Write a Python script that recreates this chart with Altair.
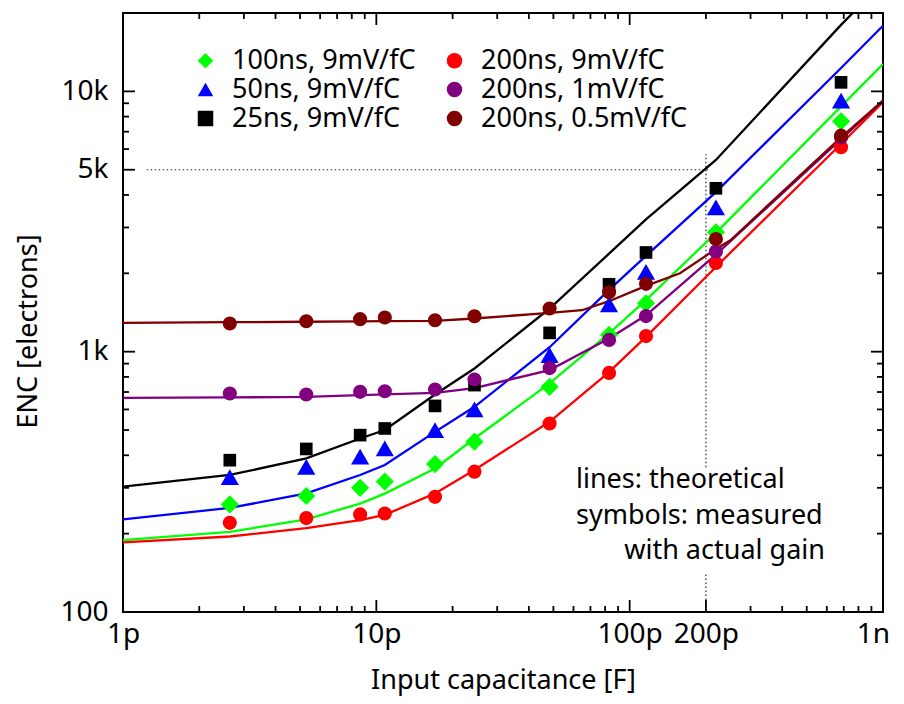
import altair as alt
import pandas as pd

# ---------------- data ----------------
series_names = ["100ns, 9mV/fC", "50ns, 9mV/fC", "25ns, 9mV/fC",
                "200ns, 9mV/fC", "200ns, 1mV/fC", "200ns, 0.5mV/fC"]
series_colors = ["#00ff00", "#0000ff", "#000000", "#ff0000", "#800080", "#800000"]
series_shapes = ["diamond", "triangle-up", "square", "circle", "circle", "circle"]
symbol_area = {"diamond": 330, "triangle-up": 330, "square": 160, "circle": 200}

# measured points (capacitance in pF, ENC in electrons)
meas_x = [2.64, 5.29, 8.63, 10.8, 17.05, 24.4, 48.3, 82.9, 116, 219, 683]
meas_100ns_9 = [259, 279, 300, 317, 370, 451, 733, 1160, 1535, 2874, 7670]
meas_50ns_9 = [330, 361, 395, 425, 500, 600, 970, 1520, 2025, 3586, 9210]
meas_25ns_9 = [383, 423, 478, 507, 619, 744, 1181, 1815, 2405, 4243, 10830]
meas_200ns_9 = [220, 229.5, 237, 239, 277, 346, 530, 829, 1148, 2193, 6100]
meas_200ns_1 = [691, 685, 701, 705, 716, 782, 865, 1110, 1370, 2424, 6650]
meas_200ns_05 = [1283, 1309, 1333, 1353, 1321, 1368, 1465, 1692, 1822, 2710, 6760]

# theoretical curves
theory_x = [1, 2.64, 5.29, 8.63, 10.8, 17.05, 24.4, 48.3, 82.9, 116, 219, 683, 1000]
theory_100ns_9 = [189, 203, 227, 261, 285, 356, 464, 755, 1175, 1577, 2860, 8760, 12730]
theory_50ns_9 = [227, 251, 285.5, 336, 367, 492, 614, 1040, 1727, 2333, 4100, 12290, 17870]
theory_25ns_9 = [303, 336, 389, 464, 500, 685, 862, 1465, 2380, 3220, 5450, 18000, 26300]
theory_200ns_9 = [185, 195, 210, 225.6, 236, 285.5, 351, 538, 835, 1140, 2116, 6280, 9100]
theory_200ns_1 = [665, 667, 671, 681, 685, 695, 725, 850, 1123, 1380, 2360, 6550, 9210]
theory_brown_x = [1, 2.64, 5.29, 8.63, 10.8, 17.05, 24.4, 48.3, 64.8, 82.9, 116, 158, 219, 250, 683, 1000]
theory_200ns_05 = [1290, 1298, 1303, 1308, 1310, 1313, 1341, 1409, 1443, 1563, 1790, 2000, 2480, 2680, 6660, 9210]

# guide lines (dotted): 5k electrons at 200 pF
guide_h_x = [1.24, 204]
guide_h_y = 5000
guide_v_x = 200
guide_v_segments = [(360, 5730), (100, 142)]

annotation_lines = ["lines: theoretical", "symbols: measured", "with actual gain"]
annotation_x = [61.4, 61.4, 590]
annotation_y = [321, 233.6, 171.4]

x_tick_labels_at = [1, 10, 100, 200, 1000]
y_tick_labels_at = [100, 1000, 5000, 10000]
x_minor = [2, 3, 4, 5, 6, 7, 8, 9, 20, 30, 40, 50, 60, 70, 80, 90,
           300, 400, 500, 600, 700, 800, 900]
y_minor = [200, 300, 400, 500, 600, 700, 800, 900,
           2000, 3000, 4000, 6000, 7000, 8000, 9000]

# ---------------- tables ----------------
meas_order = [("100ns, 9mV/fC", meas_100ns_9), ("50ns, 9mV/fC", meas_50ns_9),
              ("25ns, 9mV/fC", meas_25ns_9), ("200ns, 9mV/fC", meas_200ns_9),
              ("200ns, 1mV/fC", meas_200ns_1), ("200ns, 0.5mV/fC", meas_200ns_05)]
shape_of = dict(zip(series_names, series_shapes))
rows = []
for k, (name, vals) in enumerate(meas_order):
    for xv, yv in zip(meas_x, vals):
        rows.append({"C": xv, "ENC": yv, "series": name, "k": k,
                     "sz": symbol_area[shape_of[name]]})
points_df = pd.DataFrame(rows)

theory_order = [("100ns, 9mV/fC", theory_x, theory_100ns_9),
                ("50ns, 9mV/fC", theory_x, theory_50ns_9),
                ("25ns, 9mV/fC", theory_x, theory_25ns_9),
                ("200ns, 9mV/fC", theory_x, theory_200ns_9),
                ("200ns, 1mV/fC", theory_x, theory_200ns_1),
                ("200ns, 0.5mV/fC", theory_brown_x, theory_200ns_05)]
rows = []
for name, xs, vals in theory_order:
    for i, (xv, yv) in enumerate(zip(xs, vals)):
        rows.append({"C": xv, "ENC": yv, "line": name, "i": i})
lines_df = pd.DataFrame(rows)

W, H = 760, 599
FONT = "Noto Sans"

xscale = alt.Scale(type="log", domain=[1, 1000], nice=False)
yscale = alt.Scale(type="log", domain=[100, 20000], nice=False)

x_axis = alt.Axis(values=x_tick_labels_at,
                  labelExpr="datum.value >= 1000 ? '1n' : datum.value + 'p'",
                  labelOffset={"condition": {"test": "datum.value >= 1000", "value": -10}, "value": 0},
                  ticks=False, tickSize=0, domain=False, grid=False,
                  labelFontSize=28, labelFont=FONT, labelColor="black",
                  labelPadding=8, labelFlush=False, labelOverlap=False,
                  title="Input capacitance [F]", titleFont=FONT, titleFontSize=27,
                  titleFontWeight="normal", titleColor="black",
                  titleX=380, titleY=76, titleBaseline="alphabetic")
y_axis = alt.Axis(values=y_tick_labels_at,
                  labelExpr="datum.value >= 1000 ? (datum.value / 1000) + 'k' : datum.value",
                  ticks=False, tickSize=0, domain=False, grid=False,
                  labelFontSize=28, labelFont=FONT, labelColor="black",
                  labelPadding=15, labelFlush=False, labelOverlap=False,
                  title="ENC [electrons]", titleFont=FONT, titleFontSize=27,
                  titleFontWeight="normal", titleColor="black",
                  titleX=-87, titleY=318, titleAngle=270, titleBaseline="alphabetic")

legend = alt.Legend(orient="none", legendX=69, legendY=34, columns=2, title=None,
                    labelFontSize=27, labelFont=FONT, labelColor="black", labelLimit=0,
                    symbolSize=240, symbolStrokeWidth=0, rowPadding=1,
                    columnPadding=25, labelOffset=13, padding=0)

X = alt.X("C:Q", scale=xscale, axis=x_axis)
Y = alt.Y("ENC:Q", scale=yscale, axis=y_axis)

lines = alt.Chart(lines_df).mark_line(strokeWidth=2.3, clip=True).encode(
    x=X, y=Y,
    color=alt.Color("line:N", scale=alt.Scale(domain=series_names, range=series_colors), legend=None),
    order="i:Q",
)

points = alt.Chart(points_df).mark_point(filled=True, opacity=1).encode(
    x=X, y=Y,
    color=alt.Color("series:N", scale=alt.Scale(domain=series_names, range=series_colors), legend=legend),
    shape=alt.Shape("series:N", scale=alt.Scale(domain=series_names, range=series_shapes), legend=legend),
    size=alt.Size("sz:Q", scale=None),
    order="k:Q",
)

guide_df = pd.DataFrame(
    [{"C": guide_h_x[0], "C2": guide_h_x[1], "ENC": guide_h_y, "ENC2": guide_h_y}] +
    [{"C": guide_v_x, "C2": guide_v_x, "ENC": a, "ENC2": b} for a, b in guide_v_segments])
guides = alt.Chart(guide_df).mark_rule(color="#222222", strokeWidth=1.2, strokeDash=[1.5, 2.5]).encode(
    x=X, x2="C2:Q", y=Y, y2="ENC2:Q",
)

ann_df = pd.DataFrame({"t": annotation_lines, "C": annotation_x, "ENC": annotation_y})
ann_left = alt.Chart(ann_df.iloc[:2]).mark_text(
    align="left", baseline="middle", fontSize=27, font=FONT, color="black").encode(
    x=X, y=Y, text="t:N")
ann_right = alt.Chart(ann_df.iloc[2:]).mark_text(
    align="right", baseline="middle", fontSize=27, font=FONT, color="black").encode(
    x=X, y=Y, text="t:N")


def ticks(values, side, length):
    col = "C" if side in ("bottom", "top") else "ENC"
    df = pd.DataFrame({col: values})
    base = alt.Chart(df).mark_rule(color="black", strokeWidth=1.8)
    if side == "bottom":
        return base.encode(x=X, y=alt.value(H), y2=alt.value(H - length))
    if side == "top":
        return base.encode(x=X, y=alt.value(0), y2=alt.value(length))
    if side == "left":
        return base.encode(y=Y, x=alt.value(0), x2=alt.value(length))
    return base.encode(y=Y, x=alt.value(W), x2=alt.value(W - length))


tick_layers = [
    ticks([1, 10, 100, 200, 1000], "bottom", 12),
    ticks(x_minor, "bottom", 6),
    ticks([1, 10, 100, 1000], "top", 12),
    ticks(x_minor + [200], "top", 6),
    ticks([100, 1000, 5000, 10000], "left", 12),
    ticks(y_minor, "left", 6),
    ticks([100, 1000, 10000], "right", 12),
    ticks(y_minor + [5000], "right", 6),
]

chart = alt.layer(guides, lines, *tick_layers, ann_left, ann_right, points).resolve_scale(
    color="independent", shape="independent"
).properties(
    width=W, height=H,
    autosize=alt.AutoSizeParams(type="none"),
    padding={"left": 115, "top": 5, "right": 13, "bottom": 84},
    background="white",
).configure_view(stroke="black", strokeWidth=2)

chart.save("out.html", embed_options={"renderer": "svg", "actions": False})
